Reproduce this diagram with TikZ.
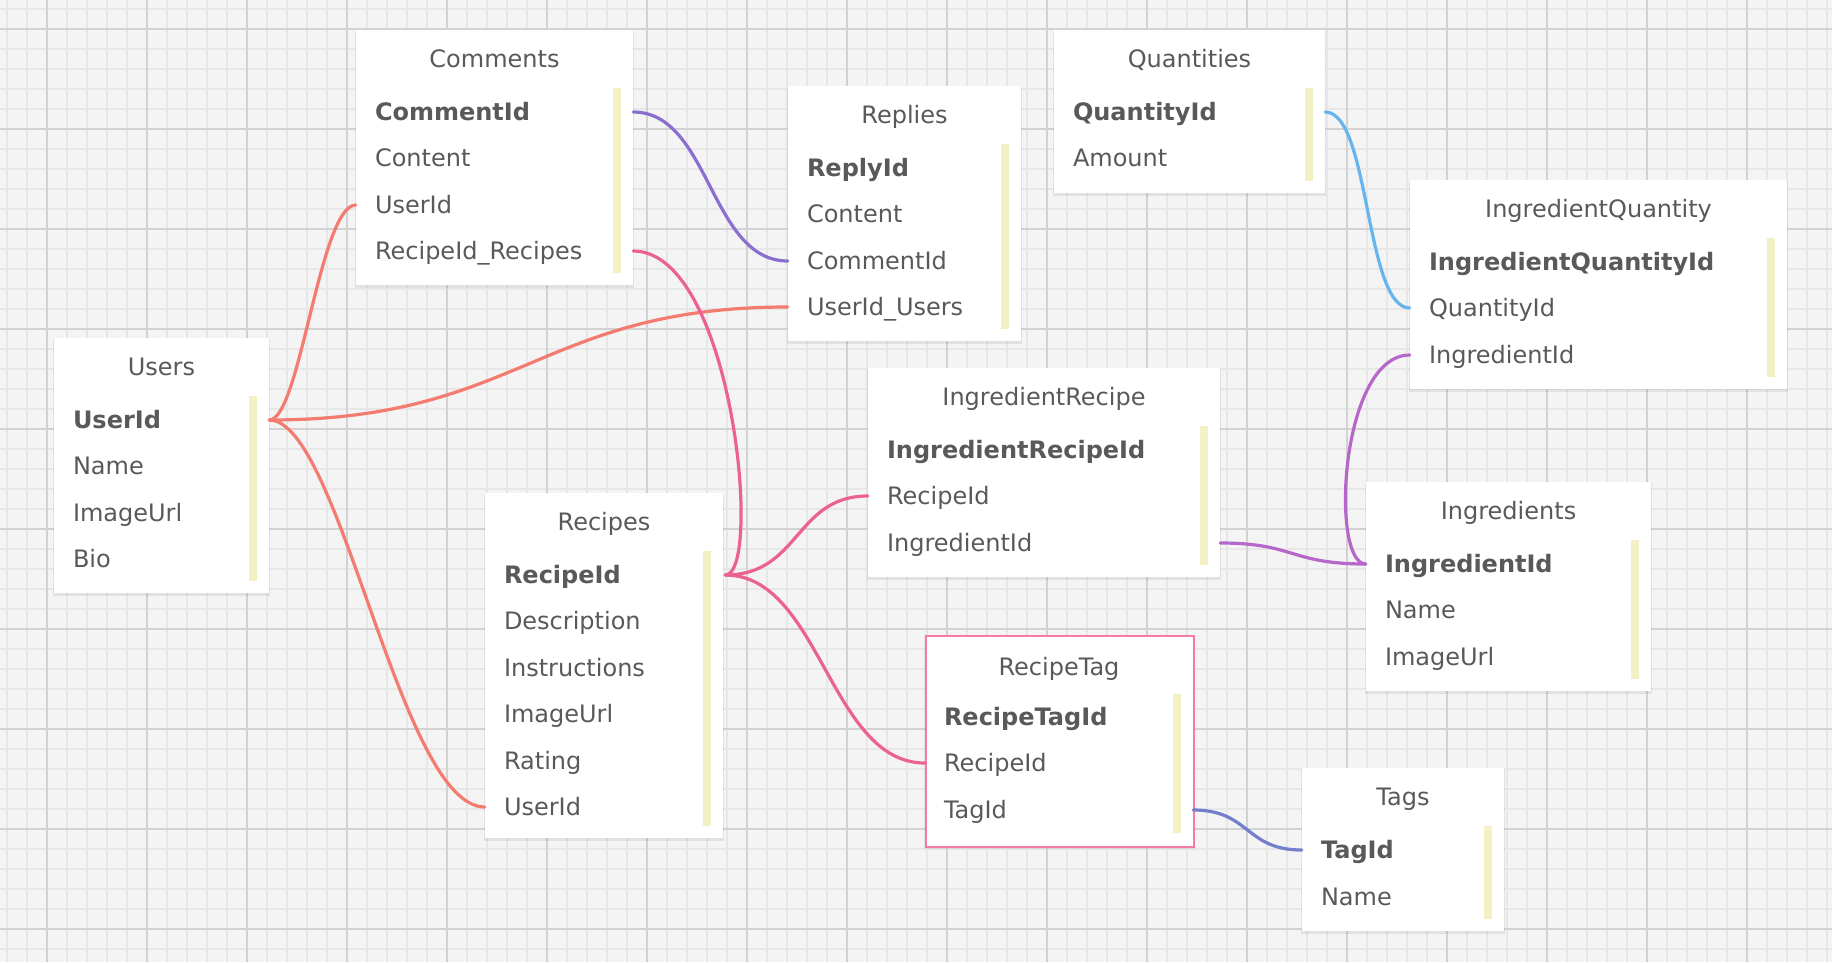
\documentclass[tikz,border=0pt]{standalone}
\usepackage{fontspec}
\setmainfont{DejaVu Sans}
\definecolor{bg}{HTML}{F4F4F4}
\definecolor{gridminor}{HTML}{E7E7E7}
\definecolor{gridmajor}{HTML}{D2D2D2}
\definecolor{txt}{HTML}{595959}
\definecolor{barc}{HTML}{F3F0C6}
\definecolor{csalmon}{HTML}{F47B6F}
\definecolor{cpink}{HTML}{EC6194}
\definecolor{cpurple}{HTML}{8B6FD0}
\definecolor{cmagenta}{HTML}{B567CA}
\definecolor{cblue}{HTML}{67B5EE}
\definecolor{cindigo}{HTML}{737FCB}
\definecolor{tagborder}{HTML}{F57BA6}
\begin{document}
\begin{tikzpicture}[x=1pt,y=-1pt,
  tbox/.style={fill=white, draw=none, anchor=north west, inner sep=0pt},
  shadowbox/.style={fill=black, fill opacity=0.07, draw=none, anchor=north west, inner sep=0pt},
  ttitle/.style={font=\fontsize{24}{28}\selectfont, text=txt, text height=17.5pt, text depth=0pt, inner sep=0pt},
  trow/.style={font=\fontsize{24}{28}\selectfont, text=txt, text height=17.5pt, text depth=0pt, inner xsep=19pt, inner ysep=0pt, align=left},
  pk/.style={trow, font=\fontsize{24}{28}\selectfont\bfseries},
  bar/.style={fill=barc, draw=none},
  link/.style={line width=3.2pt, line cap=round},
  minorline/.style={draw=gridminor, line width=1.6pt},
  majorline/.style={draw=gridmajor, line width=1.8pt},
]
\useasboundingbox (0,0) rectangle (1832,962);
\fill[bg] (0,0) rectangle (1832,962);
% grid
\foreach \i in {0,...,91} \draw[minorline] ({6.7+20*\i},0) -- ({6.7+20*\i},962);
\foreach \j in {0,...,48} \draw[minorline] (0,{9+20*\j}) -- (1832,{9+20*\j});
\foreach \i in {0,...,18} \draw[majorline] ({46.7+100*\i},0) -- ({46.7+100*\i},962);
\foreach \j in {0,...,9} \draw[majorline] (0,{29+100*\j}) -- (1832,{29+100*\j});

% ---------- Comments
\node[shadowbox, minimum width=279pt, minimum height=257pt] at (355,31) {};
\node[tbox, minimum width=277pt, minimum height=255pt] (comments) at (356,30) {};
\node[ttitle] (comments-title) at (494.5,59) {Comments};
\node[pk, text width=239pt] (comments-commentid) at (494.5,112) {CommentId};
\node[trow, text width=239pt] (comments-content) at (494.5,158) {Content};
\node[trow, text width=239pt] (comments-userid) at (494.5,205) {UserId};
\node[trow, text width=239pt] (comments-recipeid) at (494.5,251) {RecipeId\_Recipes};
\fill[bar] (613,88) rectangle (621,273);

% ---------- Replies
\node[shadowbox, minimum width=235pt, minimum height=257pt] at (787,87) {};
\node[tbox, minimum width=233pt, minimum height=255pt] (replies) at (788,86) {};
\node[ttitle] (replies-title) at (904.5,115) {Replies};
\node[pk, text width=195pt] (replies-replyid) at (904.5,168) {ReplyId};
\node[trow, text width=195pt] (replies-content) at (904.5,214) {Content};
\node[trow, text width=195pt] (replies-commentid) at (904.5,261) {CommentId};
\node[trow, text width=195pt] (replies-useridusers) at (904.5,307) {UserId\_Users};
\fill[bar] (1001,144) rectangle (1009,329);

% ---------- Quantities
\node[shadowbox, minimum width=273pt, minimum height=165pt] at (1053,31) {};
\node[tbox, minimum width=271pt, minimum height=163pt] (quantities) at (1054,30) {};
\node[ttitle] (quantities-title) at (1189.5,59) {Quantities};
\node[pk, text width=233pt] (quantities-quantityid) at (1189.5,112) {QuantityId};
\node[trow, text width=233pt] (quantities-amount) at (1189.5,158) {Amount};
\fill[bar] (1305,88) rectangle (1313,181);

% ---------- IngredientQuantity
\node[shadowbox, minimum width=379pt, minimum height=211pt] at (1409,181) {};
\node[tbox, minimum width=377pt, minimum height=209pt] (ingredientquantity) at (1410,180) {};
\node[ttitle] (iq-title) at (1598.5,209) {IngredientQuantity};
\node[pk, text width=339pt] (iq-id) at (1598.5,262) {IngredientQuantityId};
\node[trow, text width=339pt] (iq-quantityid) at (1598.5,308) {QuantityId};
\node[trow, text width=339pt] (iq-ingredientid) at (1598.5,355) {IngredientId};
\fill[bar] (1767,238) rectangle (1775,377);

% ---------- Users
\node[shadowbox, minimum width=217pt, minimum height=257pt] at (53,339) {};
\node[tbox, minimum width=215pt, minimum height=255pt] (users) at (54,338) {};
\node[ttitle] (users-title) at (161.5,367) {Users};
\node[pk, text width=177pt] (users-userid) at (161.5,420) {UserId};
\node[trow, text width=177pt] (users-name) at (161.5,466) {Name};
\node[trow, text width=177pt] (users-imageurl) at (161.5,513) {ImageUrl};
\node[trow, text width=177pt] (users-bio) at (161.5,559) {Bio};
\fill[bar] (249,396) rectangle (257,581);

% ---------- IngredientRecipe
\node[shadowbox, minimum width=354pt, minimum height=211pt] at (867,369) {};
\node[tbox, minimum width=352pt, minimum height=209pt] (ingredientrecipe) at (868,368) {};
\node[ttitle] (ir-title) at (1044,397) {IngredientRecipe};
\node[pk, text width=314pt] (ir-id) at (1044,450) {IngredientRecipeId};
\node[trow, text width=314pt] (ir-recipeid) at (1044,496) {RecipeId};
\node[trow, text width=314pt] (ir-ingredientid) at (1044,543) {IngredientId};
\fill[bar] (1200,426) rectangle (1208,565);

% ---------- Recipes
\node[shadowbox, minimum width=240pt, minimum height=347pt] at (484,494) {};
\node[tbox, minimum width=238pt, minimum height=345pt] (recipes) at (485,493) {};
\node[ttitle] (recipes-title) at (604,522) {Recipes};
\node[pk, text width=200pt] (recipes-recipeid) at (604,575) {RecipeId};
\node[trow, text width=200pt] (recipes-description) at (604,621) {Description};
\node[trow, text width=200pt] (recipes-instructions) at (604,668) {Instructions};
\node[trow, text width=200pt] (recipes-imageurl) at (604,714) {ImageUrl};
\node[trow, text width=200pt] (recipes-rating) at (604,761) {Rating};
\node[trow, text width=200pt] (recipes-userid) at (604,807) {UserId};
\fill[bar] (703,551) rectangle (711,826);

% ---------- Ingredients
\node[shadowbox, minimum width=287pt, minimum height=211pt] at (1365,483) {};
\node[tbox, minimum width=285pt, minimum height=209pt] (ingredients) at (1366,482) {};
\node[ttitle] (ingredients-title) at (1508.5,511) {Ingredients};
\node[pk, text width=247pt] (ingredients-ingredientid) at (1508.5,564) {IngredientId};
\node[trow, text width=247pt] (ingredients-name) at (1508.5,610) {Name};
\node[trow, text width=247pt] (ingredients-imageurl) at (1508.5,657) {ImageUrl};
\fill[bar] (1631,540) rectangle (1639,679);

% ---------- RecipeTag
\node[shadowbox, minimum width=270pt, minimum height=213pt] at (924,636) {};
\node[tbox, draw=tagborder, line width=2pt, minimum width=268pt, minimum height=211pt] (recipetag) at (925,635) {};
\node[ttitle] (rt-title) at (1059,667) {RecipeTag};
\node[pk, text width=230pt] (rt-id) at (1059,717) {RecipeTagId};
\node[trow, text width=230pt] (rt-recipeid) at (1059,763) {RecipeId};
\node[trow, text width=230pt] (rt-tagid) at (1059,810) {TagId};
\fill[bar] (1173,694) rectangle (1181,833);

% ---------- Tags
\node[shadowbox, minimum width=204pt, minimum height=165pt] at (1301,769) {};
\node[tbox, minimum width=202pt, minimum height=163pt] (tags) at (1302,768) {};
\node[ttitle] (tags-title) at (1403,797) {Tags};
\node[pk, text width=164pt] (tags-tagid) at (1403,850) {TagId};
\node[trow, text width=164pt] (tags-name) at (1403,897) {Name};
\fill[bar] (1484,826) rectangle (1492,919);

% ---------- connectors
\draw[link, csalmon] (users-userid.east) .. controls +(31,0) and +(-36,0) .. (comments-userid.west);
\draw[link, csalmon] (users-userid.east) .. controls +(251,0) and +(-248,0) .. (replies-useridusers.west);
\draw[link, csalmon] (users-userid.east) .. controls +(71,0) and +(-85,0) .. (recipes-userid.west);
\draw[link, cpurple] (comments-commentid.east) .. controls +(77,0) and +(-78,0) .. (replies-commentid.west);
\draw[link, cpink] (comments-recipeid.east) .. controls +(100,0) and +(38,0) .. ([xshift=2pt]recipes-recipeid.east);
\draw[link, cpink] ([xshift=2pt]recipes-recipeid.east) .. controls +(75,0) and +(-73,0) .. (ir-recipeid.west);
\draw[link, cpink] ([xshift=2pt]recipes-recipeid.east) .. controls +(95,0) and +(-95,0) .. (rt-recipeid.west);
\draw[link, cmagenta] (ir-ingredientid.east) .. controls +(75,0) and +(-76,0) .. (ingredients-ingredientid.west);
\draw[link, cmagenta] (iq-ingredientid.west) .. controls +(-70,0) and +(-36,0) .. (ingredients-ingredientid.west);
\draw[link, cblue] (quantities-quantityid.east) .. controls +(45,0) and +(-45,0) .. (iq-quantityid.west);
\draw[link, cindigo] (rt-tagid.east) .. controls +(57,0) and +(-57,0) .. (tags-tagid.west);
\end{tikzpicture}
\end{document}
